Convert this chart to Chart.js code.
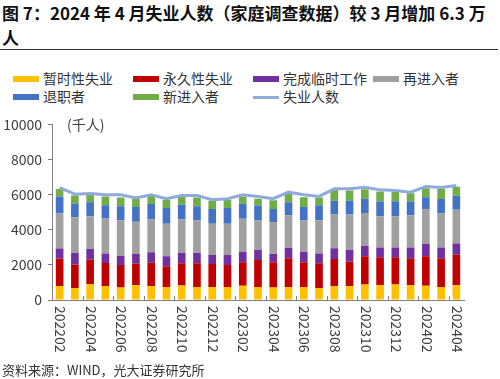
<!DOCTYPE html>
<html>
<head>
<meta charset="utf-8">
<script src="https://cdn.jsdelivr.net/npm/chart.js@4.4.1/dist/chart.umd.min.js"></script>
<style>
  html, body { margin: 0; padding: 0; background: #fff; }
  body { width: 500px; height: 379px; position: relative; overflow: hidden; font-family: "Noto Sans CJK SC", "Noto Sans", sans-serif; }
  #title { position: absolute; left: 2px; top: 0px; font-size: 17px; font-weight: bold; line-height: 25px; color: #111; white-space: nowrap; }
  #rule { position: absolute; left: 0; top: 49px; width: 498px; height: 0; border-top: 1.5px solid #333; }
  #legend { position: absolute; left: 0; top: 0; width: 500px; height: 110px; }
  .li { position: absolute; font-size: 14px; color: #333; line-height: 18px; white-space: nowrap; }
  .sw { position: absolute; }
  #source { position: absolute; left: 2px; top: 361px; font-size: 13px; color: #333; line-height: 18px; white-space: nowrap; }
  #c { position: absolute; left: 0; top: 110px; }
</style>
</head>
<body>
<div id="title">图 7：2024 年 4 月失业人数（家庭调查数据）较 3 月增加 6.3 万<br>人</div>
<div id="rule"></div>
<div id="legend"></div>
<canvas id="c" width="500" height="269"></canvas>
<div id="source">资料来源：WIND，光大证券研究所</div>
<script>
// ---- data (thousand persons) ----
const categories = ['202202','202203','202204','202205','202206','202207','202208','202209','202210','202211','202212',
  '202301','202302','202303','202304','202305','202306','202307','202308','202309','202310','202311','202312',
  '202401','202402','202403','202404'];
const temporaryLayoff = [800,680,890,800,710,840,785,745,820,745,745,745,805,745,710,745,745,690,785,785,880,840,880,840,805,745,840];
const permanentLoss   = [1570,1340,1410,1310,1290,1220,1330,1180,1275,1350,1310,1255,1345,1535,1440,1630,1405,1405,1555,1405,1610,1590,1555,1535,1685,1630,1740];
const completedTemp   = [560,655,600,545,525,560,600,560,580,580,505,560,600,580,470,580,600,560,600,655,600,560,560,620,695,620,635];
const reentrants      = [1990,2040,1870,1985,2005,1835,1870,1855,1910,1855,1780,1780,1870,1670,1815,1855,1780,1890,1930,2025,1870,1780,1780,1835,1965,1930,1930];
const jobLeavers      = [970,770,790,750,805,845,880,900,845,805,845,900,865,845,750,750,770,845,785,785,805,845,845,785,695,825,785];
const newEntrants     = [430,470,430,505,505,470,485,470,470,505,470,470,410,395,490,485,545,450,620,580,545,560,525,470,525,580,525];
const unemployed      = [6404,6029,6066,5991,5991,5804,5991,5767,5954,5954,5711,5767,5991,5898,5767,6141,5991,5898,6329,6329,6422,6272,6235,6141,6460,6404,6516];
const yTicks = [0, 2000, 4000, 6000, 8000, 10000];

const axisColor = '#7f7f7f';
const textColor = '#404040';
const FONT = '"Noto Sans CJK SC", "Noto Sans", sans-serif';

const barSeries = [
  { label: '暂时性失业',   data: temporaryLayoff, color: '#FFC000' },
  { label: '永久性失业',   data: permanentLoss,   color: '#C00000' },
  { label: '完成临时工作', data: completedTemp,   color: '#7030A0' },
  { label: '再进入者',     data: reentrants,      color: '#A0A0A0' },
  { label: '退职者',       data: jobLeavers,      color: '#4472C4' },
  { label: '新进入者',     data: newEntrants,     color: '#70AD47' }
];
const lineSeries = { label: '失业人数', data: unemployed, color: '#8FAADC' };

const datasets = barSeries.map(s => ({
  type: 'bar', label: s.label, data: s.data, backgroundColor: s.color, borderWidth: 0,
  stack: 'parts', order: 1, barPercentage: 0.5, categoryPercentage: 1.0
}));
datasets.push({
  type: 'line', label: lineSeries.label, data: lineSeries.data, borderColor: lineSeries.color,
  backgroundColor: lineSeries.color, borderWidth: 3, pointRadius: 0, tension: 0, stack: 'total', order: 0
});

// ---- HTML legend ----
const legend = document.getElementById('legend');
const legendItems = barSeries.map(s => ({ label: s.label, color: s.color, line: false }))
  .concat([{ label: lineSeries.label, color: lineSeries.color, line: true }]);
legendItems.forEach((it, i) => {
  const col = i % 4, row = Math.floor(i / 4);
  const x = 13 + col * 120, yc = 79 + row * 18;
  const sw = document.createElement('div');
  sw.className = 'sw';
  const h = it.line ? 3 : 6;
  sw.style.cssText = `left:${x}px;top:${yc - h / 2}px;width:26px;height:${h}px;background:${it.color};`;
  legend.appendChild(sw);
  const t = document.createElement('div');
  t.className = 'li';
  t.textContent = it.label;
  t.style.left = (x + 30) + 'px';
  t.style.top = (yc - 10) + 'px';
  legend.appendChild(t);
});

// ---- overlay plugin: rotated x labels, inner ticks, unit ----
const overlay = {
  id: 'overlay',
  afterDraw(chart) {
    const { ctx, chartArea, scales: { x } } = chart;
    ctx.save();
    const half = (x.getPixelForValue(1) - x.getPixelForValue(0)) / 2;
    ctx.strokeStyle = axisColor;
    ctx.lineWidth = 1;
    for (let i = 1; i < categories.length; i += 2) {
      const px = Math.round(x.getPixelForValue(i) + half) + 0.5;
      ctx.beginPath();
      ctx.moveTo(px, chartArea.bottom);
      ctx.lineTo(px, chartArea.bottom - 4);
      ctx.stroke();
    }
    ctx.fillStyle = textColor;
    ctx.font = '14px ' + FONT;
    categories.forEach((c, i) => {
      if (i % 2) return;
      ctx.save();
      ctx.translate(x.getPixelForValue(i) + 1, chartArea.bottom + 6);
      ctx.rotate(Math.PI / 2);
      ctx.textAlign = 'left';
      ctx.textBaseline = 'middle';
      ctx.fillText(c, 0, 0);
      ctx.restore();
    });
    ctx.textAlign = 'left';
    ctx.textBaseline = 'middle';
    ctx.fillText('(千人)', chartArea.left + 15, chartArea.top);
    ctx.restore();
  }
};

new Chart(document.getElementById('c'), {
  data: { labels: categories, datasets },
  options: {
    responsive: false,
    animation: false,
    devicePixelRatio: 1,
    layout: { padding: { top: 12, right: 36, left: 0, bottom: 0 } },
    plugins: { legend: { display: false }, tooltip: { enabled: false } },
    scales: {
      x: {
        stacked: true,
        ticks: { display: false },
        grid: { display: false },
        border: { display: true, color: axisColor, width: 1 },
        afterFit: s => { s.height = 79; }
      },
      y: {
        stacked: true,
        min: 0, max: 10000,
        afterBuildTicks: s => { s.ticks = yTicks.map(v => ({ value: v })); },
        ticks: { color: textColor, font: { family: FONT, size: 14 }, padding: 6, callback: v => String(v) },
        grid: { drawOnChartArea: false, drawTicks: true, tickLength: 4, color: axisColor },
        border: { display: true, color: axisColor, width: 1 },
        afterFit: s => { s.width = 52; }
      }
    }
  },
  plugins: [overlay]
});
</script>
</body>
</html>
